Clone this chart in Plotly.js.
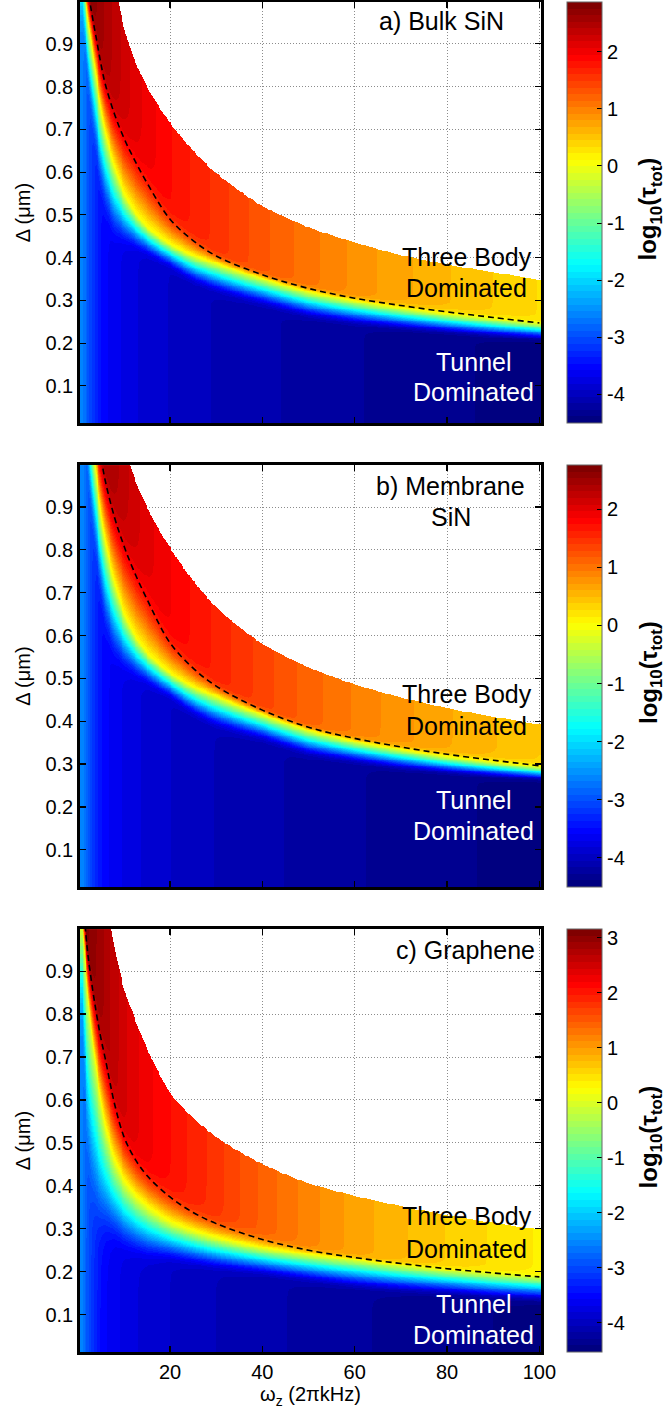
<!DOCTYPE html>
<html><head><meta charset="utf-8">
<script src="https://cdn.plot.ly/plotly-3.0.1.min.js"></script>
<style>html,body{margin:0;padding:0;background:#fff}#chart{width:665px;height:1418px}</style>
</head><body><div id="chart"></div>
<script>
// ---------------- values ----------------
// trap frequency samples (2π kHz) at which the curves / colours were read
const omegaSamples = [1, 2, 3, 4, 5, 6, 8, 10, 12, 15, 20, 25, 30, 40, 50, 60, 70, 80, 90, 100];

const panelLabels = ['a) Bulk SiN', 'b) Membrane', 'c) Graphene'];
const panelLabels2 = ['', 'SiN', ''];
const threeBodyText = ['Three Body', 'Dominated'];
const tunnelText = ['Tunnel', 'Dominated'];
const colorbarTitle = '<b>log<sub>10</sub>(τ<sub>tot</sub>)</b>';
const xTitle = 'ω<sub>z</sub> (2πkHz)';
const yTitle = 'Δ (μm)';

// a) Bulk SiN : white-region edge, dashed boundary, yellow (0) and cyan (-2) colour lines [µm],
//    colour of the three-body region and of the tunnel floor [log10 tau]
const cutoffBulk = [2.6, 1.95, 1.63, 1.43, 1.3, 1.2, 1.04, 0.94, 0.87, 0.80, 0.715, 0.65, 0.597, 0.52, 0.47, 0.435, 0.405, 0.383, 0.365, 0.348];
const dashedBulk = [1.2, 1.05, 0.975, 0.915, 0.855, 0.805, 0.735, 0.68, 0.635, 0.575, 0.49, 0.44, 0.404, 0.36, 0.328, 0.305, 0.288, 0.273, 0.26, 0.247];
const yellowBulk = [1.1, 0.98, 0.9, 0.82, 0.75, 0.69, 0.61, 0.55, 0.51, 0.47, 0.43, 0.403, 0.385, 0.35, 0.318, 0.297, 0.28, 0.266, 0.255, 0.244];
const cyanBulk   = [1.0, 0.9, 0.8, 0.72, 0.65, 0.595, 0.53, 0.493, 0.468, 0.44, 0.405, 0.375, 0.355, 0.322, 0.292, 0.273, 0.259, 0.247, 0.237, 0.228];
const threeBodyBulk = [2.9, 2.85, 2.75, 2.65, 2.58, 2.5, 2.38, 2.25, 2.15, 2.02, 1.85, 1.7, 1.57, 1.3, 1.08, 0.88, 0.72, 0.58, 0.45, 0.33];
const floorBulk  = [-2.6, -2.85, -3.1, -3.3, -3.45, -3.55, -3.65, -3.72, -3.78, -3.85, -3.93, -4.0, -4.05, -4.12, -4.2, -4.26, -4.31, -4.36, -4.4, -4.43];

// b) Membrane SiN
const cutoffMembrane = [2.9, 2.2, 1.83, 1.6, 1.46, 1.34, 1.17, 1.05, 0.975, 0.9, 0.805, 0.728, 0.665, 0.58, 0.525, 0.485, 0.455, 0.43, 0.41, 0.392];
const dashedMembrane = [1.43, 1.25, 1.16, 1.09, 1.02, 0.96, 0.875, 0.81, 0.755, 0.685, 0.583, 0.524, 0.482, 0.426, 0.386, 0.36, 0.34, 0.323, 0.309, 0.296];
const yellowMembrane = [1.31, 1.17, 1.07, 0.975, 0.89, 0.82, 0.725, 0.655, 0.607, 0.56, 0.512, 0.48, 0.458, 0.415, 0.378, 0.352, 0.333, 0.316, 0.303, 0.292];
const cyanMembrane   = [1.2, 1.08, 0.96, 0.865, 0.785, 0.715, 0.638, 0.59, 0.558, 0.525, 0.485, 0.45, 0.425, 0.388, 0.352, 0.33, 0.313, 0.299, 0.288, 0.279];
const threeBodyMembrane = [2.85, 2.8, 2.72, 2.63, 2.55, 2.48, 2.36, 2.25, 2.15, 2.02, 1.86, 1.72, 1.6, 1.35, 1.12, 0.93, 0.76, 0.62, 0.5, 0.38];
const floorMembrane  = [-2.6, -2.85, -3.1, -3.3, -3.45, -3.55, -3.65, -3.72, -3.78, -3.85, -3.93, -4.0, -4.05, -4.12, -4.2, -4.26, -4.31, -4.36, -4.4, -4.43];

// c) Graphene
const cutoffGraphene = [2.54, 1.84, 1.52, 1.33, 1.2, 1.1, 0.955, 0.86, 0.8, 0.72, 0.615, 0.558, 0.513, 0.45, 0.405, 0.376, 0.352, 0.331, 0.313, 0.297];
const dashedGraphene = [1.1, 0.96, 0.875, 0.805, 0.745, 0.695, 0.59, 0.515, 0.47, 0.424, 0.374, 0.338, 0.312, 0.275, 0.25, 0.233, 0.219, 0.207, 0.197, 0.188];
const yellowGraphene = [1.0, 0.87, 0.75, 0.66, 0.59, 0.525, 0.45, 0.405, 0.375, 0.345, 0.31, 0.29, 0.275, 0.252, 0.237, 0.225, 0.212, 0.201, 0.192, 0.184];
const cyanGraphene   = [0.85, 0.64, 0.53, 0.47, 0.43, 0.4, 0.36, 0.33, 0.31, 0.29, 0.27, 0.255, 0.243, 0.225, 0.21, 0.197, 0.186, 0.177, 0.168, 0.161];
const threeBodyGraphene = [3.2, 3.1, 3.0, 2.92, 2.85, 2.78, 2.62, 2.48, 2.38, 2.25, 2.08, 1.92, 1.78, 1.45, 1.18, 0.95, 0.78, 0.63, 0.5, 0.38];
const floorGraphene  = [-2.55, -2.85, -3.1, -3.3, -3.45, -3.55, -3.65, -3.72, -3.78, -3.85, -3.93, -4.0, -4.05, -4.13, -4.2, -4.27, -4.32, -4.37, -4.41, -4.45];

// colour bar limits for log10(tau_tot)
const colorLimits = [[-4.5, 2.87], [-4.5, 2.76], [-4.53, 3.16]];
const colorbarTicks = [-4, -3, -2, -1, 0, 1, 2, 3];
const colorbarTickText = ['-4', '-3', '-2', '-1', '0', '1', '2', '3'];
const xTicks = [20, 40, 60, 80, 100];
const yTicks = [0.1, 0.2, 0.3, 0.4, 0.5, 0.6, 0.7, 0.8, 0.9];

// ---------------- building the heat-map tables ----------------
const panels = [
  {cutoff: cutoffBulk, dashed: dashedBulk, yellow: yellowBulk, cyan: cyanBulk, z3: threeBodyBulk, floor: floorBulk},
  {cutoff: cutoffMembrane, dashed: dashedMembrane, yellow: yellowMembrane, cyan: cyanMembrane, z3: threeBodyMembrane, floor: floorMembrane},
  {cutoff: cutoffGraphene, dashed: dashedGraphene, yellow: yellowGraphene, cyan: cyanGraphene, z3: threeBodyGraphene, floor: floorGraphene}
];

const xGrid = [];
for (let x = 0.6; x <= 100.4; x += 0.2) xGrid.push(+x.toFixed(2));
const yGrid = [];
for (let d = 0.013; d <= 0.999; d += 0.002) yGrid.push(+d.toFixed(4));

function interpLog(xs, vals, x) {
  const xc = Math.max(xs[0], Math.min(xs[xs.length - 1], x));
  const lx = Math.log(xc);
  for (let i = 0; i < xs.length - 1; i++) {
    const a = Math.log(xs[i]), b = Math.log(xs[i + 1]);
    if (lx <= b) { const t = (lx - a) / (b - a); return vals[i] + t * (vals[i + 1] - vals[i]); }
  }
  return vals[vals.length - 1];
}

function buildField(p) {
  const cols = xGrid.map(x => ({
    cut: interpLog(omegaSamples, p.cutoff, x),
    dash: interpLog(omegaSamples, p.dashed, x),
    ye: interpLog(omegaSamples, p.yellow, x),
    cy: interpLog(omegaSamples, p.cyan, x),
    z3: interpLog(omegaSamples, p.z3, x),
    fl: interpLog(omegaSamples, p.floor, x)
  }));
  const z = [];
  for (const d of yGrid) {
    const row = new Array(cols.length);
    for (let j = 0; j < cols.length; j++) {
      const c = cols[j];
      if (d > c.cut) { row[j] = null; continue; }
      let zt;
      if (d < c.ye) zt = -2 * (c.ye - d) / (c.ye - c.cy);
      else zt = c.z3 * (d - c.ye) / Math.max(1e-4, c.dash - c.ye);
      const zc = -Math.log10(Math.pow(10, -c.z3) + Math.pow(10, -zt));
      row[j] = Math.log10(Math.pow(10, c.fl) + Math.pow(10, zc));
    }
    z.push(row);
  }
  return z;
}

// MATLAB-style 64 step jet colour map
function jet(t) {
  const cl = v => Math.max(0, Math.min(1, v));
  const r = cl(1.5 - Math.abs(4 * t - 3)), g = cl(1.5 - Math.abs(4 * t - 2)), b = cl(1.5 - Math.abs(4 * t - 1));
  return 'rgb(' + Math.round(r * 255) + ',' + Math.round(g * 255) + ',' + Math.round(b * 255) + ')';
}
const jet64 = [];
for (let i = 0; i < 64; i++) {
  const col = jet(i / 63);
  jet64.push([i / 64, col]);
  jet64.push([(i + 1) / 64, col]);
}

// ---------------- figure ----------------
const FONT = 'Liberation Sans, Arial, sans-serif';
const domains = [[0.6881, 1.0], [0.3444, 0.6570], [0.0, 0.3133]];
const axNames = [['x', 'y'], ['x2', 'y2'], ['x3', 'y3']];

const data = [];
const annotations = [];
const layout = {
  width: 665, height: 1418,
  margin: {l: 80, r: 124, t: 2, b: 66},
  paper_bgcolor: 'white', plot_bgcolor: 'white',
  font: {family: FONT, color: 'black', size: 20},
  showlegend: false,
  annotations: annotations
};

panels.forEach((p, i) => {
  const [xa, ya] = axNames[i];
  const dom = domains[i];
  data.push({
    type: 'heatmap', x: xGrid, y: yGrid, z: buildField(p),
    zmin: colorLimits[i][0], zmax: colorLimits[i][1],
    colorscale: jet64, zsmooth: false, hoverinfo: 'skip',
    xaxis: xa, yaxis: ya,
    colorbar: {
      x: 1.0564, xanchor: 'left', xpad: 0, ypad: 0,
      y: (dom[0] + dom[1]) / 2, yanchor: 'middle', len: dom[1] - dom[0], lenmode: 'fraction',
      thickness: 35, thicknessmode: 'pixels',
      outlinecolor: '#666', outlinewidth: 1,
      ticks: 'inside', ticklen: 5, tickcolor: 'black', tickwidth: 1,
      tickvals: colorbarTicks, ticktext: colorbarTickText, tickfont: {size: 20, family: FONT}
    }
  });
  data.push({
    type: 'scatter', mode: 'lines', x: omegaSamples, y: p.dashed,
    line: {color: 'black', width: 1.6, dash: '6px,4px', shape: 'spline'},
    hoverinfo: 'skip', xaxis: xa, yaxis: ya
  });

  const xKey = i === 0 ? 'xaxis' : 'xaxis' + (i + 1);
  const yKey = i === 0 ? 'yaxis' : 'yaxis' + (i + 1);
  const common = {
    showline: true, linecolor: 'black', linewidth: 2.8, mirror: 'ticks',
    ticks: 'inside', ticklen: 6, tickwidth: 1.2, tickcolor: 'black',
    showgrid: true, gridcolor: '#8c8c8c', gridwidth: 1, griddash: '1px,2px',
    zeroline: false, tickfont: {size: 20, family: FONT, color: 'black'}
  };
  layout[xKey] = Object.assign({}, common, {
    anchor: ya, domain: [0, 1], range: [0.5, 100.35], tickvals: xTicks,
    showticklabels: i === 2,
    title: i === 2 ? {text: xTitle, font: {size: 20, family: FONT}, standoff: 6} : {text: ''}
  });
  layout[yKey] = Object.assign({}, common, {
    anchor: xa, domain: dom, range: [0.013, 0.998], tickvals: yTicks,
    title: {text: yTitle, font: {size: 20, family: FONT}, standoff: 10}
  });

  // colour-bar title, rotated, centred on the bar
  annotations.push({
    xref: 'paper', yref: 'paper', x: 1.2364, y: (dom[0] + dom[1]) / 2 + 0.003,
    xanchor: 'center', yanchor: 'middle', textangle: -90, showarrow: false,
    text: colorbarTitle, font: {size: 24, family: FONT, color: 'black'}
  });
});

// text labels
const labelPos = [
  {lab: [78.7, 0.954], lab2: null, tb: [84.3, 0.402, 0.330], tu: [85.8, 0.157, 0.085]},
  {lab: [80.8, 0.950], lab2: [80.8, 0.877], tb: [84.3, 0.463, 0.388], tu: [85.8, 0.217, 0.145]},
  {lab: [84.1, 0.949], lab2: null, tb: [84.3, 0.329, 0.254], tu: [85.8, 0.125, 0.052]}
];
labelPos.forEach((q, i) => {
  const [xa, ya] = axNames[i];
  const base = {xref: xa, yref: ya, showarrow: false, xanchor: 'center', yanchor: 'middle'};
  const f = c => ({size: 25, color: c, family: FONT});
  annotations.push(Object.assign({}, base, {x: q.lab[0], y: q.lab[1], text: panelLabels[i], font: f('black')}));
  if (q.lab2) annotations.push(Object.assign({}, base, {x: q.lab2[0], y: q.lab2[1], text: panelLabels2[i], font: f('black')}));
  annotations.push(Object.assign({}, base, {x: q.tb[0], y: q.tb[1], text: threeBodyText[0], font: f('black')}));
  annotations.push(Object.assign({}, base, {x: q.tb[0], y: q.tb[2], text: threeBodyText[1], font: f('black')}));
  annotations.push(Object.assign({}, base, {x: q.tu[0], y: q.tu[1], text: tunnelText[0], font: f('white')}));
  annotations.push(Object.assign({}, base, {x: q.tu[0], y: q.tu[2], text: tunnelText[1], font: f('white')}));
});

Plotly.newPlot('chart', data, layout, {displayModeBar: false, staticPlot: true});
</script>
</body></html>
